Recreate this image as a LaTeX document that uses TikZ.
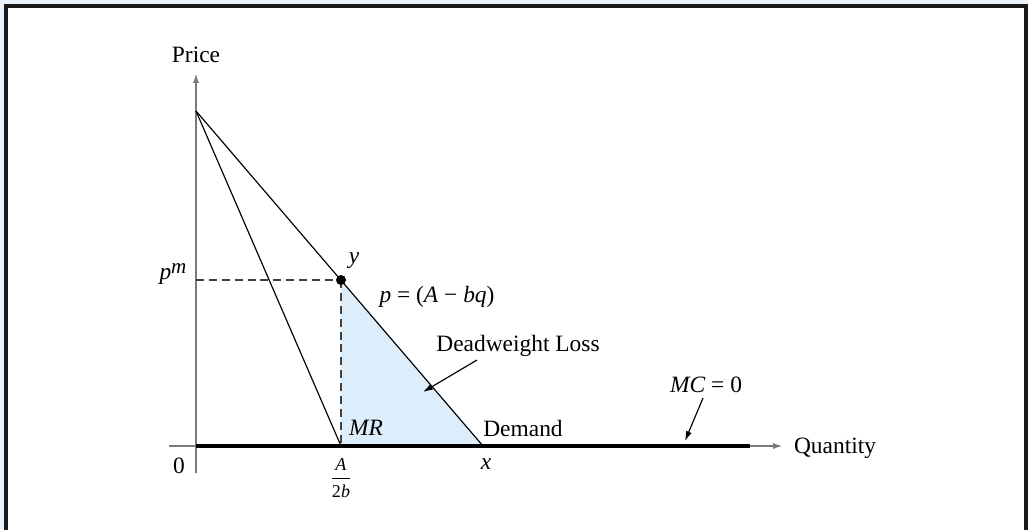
\documentclass[tikz,border=0pt]{standalone}
\usepackage{amsmath}
\usepackage{fontspec}
\setmainfont{Liberation Serif}
\usetikzlibrary{arrows.meta}
\definecolor{cframe}{HTML}{1A1A1A}
\definecolor{cpage}{HTML}{E8F3FC}
\definecolor{caxis}{HTML}{7A7A7A}
\definecolor{cdwl}{HTML}{DCEDFB}
\tikzset{
  every picture/.style={font=\fontsize{10}{12}\selectfont},
  axis/.style={draw=caxis, line width=0.9pt},
  curve/.style={draw=black, line width=0.5pt},
  guide/.style={draw=black!75, line width=0.5pt, dash pattern=on 3.4pt off 2.1pt},
  tip/.style={-{Latex[length=4.2pt, width=2.6pt]}},
  lbl/.style={inner sep=0pt, anchor=center},
}

\begin{document}
\begin{tikzpicture}[x=0.015cm, y=-0.015cm]
  \useasboundingbox (0,0) rectangle (1028,529);
  \clip (0,0) rectangle (1028,529);
  \fill[cpage] (0,0) rectangle (1028,529);
  \draw[cframe, fill=white, line width=1.3pt] (6,6) rectangle (1026,560);
  % key points
  \coordinate (O) at (196,446);
  \coordinate (top) at (196,111);
  \coordinate (mr) at (341,446);
  \coordinate (dq) at (483,446);
  \coordinate (ym) at (341,280);
  \coordinate (pm) at (196,280);
  \coordinate (mcend) at (750,446);
  \coordinate (ybot) at (196,473);
  \coordinate (ytop) at (196,73);
  \coordinate (xleft) at (169,446);
  \coordinate (xright) at (783,446);
  % deadweight loss
  \fill[cdwl] (ym) -- (mr) -- (dq) -- cycle;
  % axes
  \draw[axis, tip] (ybot) -- (ytop);
  \draw[axis, tip] (xleft) -- (xright);
  \draw[line width=2.1pt] (O) -- (mcend);
  % demand and MR
  \draw[curve] (top) -- (dq);
  \draw[curve] (top) -- (mr);
  \draw[guide] (pm) -- (ym);
  \draw[guide] (ym) -- (mr);
  \fill (ym) circle (5);
  % labels
  \node[lbl] (price) at (196,55) {Price};
  \node[lbl] (qty) at (835,448) {Quantity};
  \node[lbl] (zero) at (179,466) {0};
  \node[lbl] (pmlbl) at (173,274) {\textit{p}\raisebox{0.55ex}{\fontsize{9}{10}\selectfont\textit{m}}};
  \node[lbl] (ylbl) at (354,261) {\textit{y}};
  \node[lbl] (demeq) at (437,297) {\textit{p} = (\textit{A} − \textit{bq})};
  \node[lbl] (dwl) at (518,346) {Deadweight Loss};
  \node[lbl] (mrlbl) at (366,428) {\textit{MR}};
  \node[lbl] (demlbl) at (523,428) {Demand};
  \node[lbl] (xlbl) at (486,464) {\textit{x}};
  \node[lbl, font=\fontsize{7.7}{9}\selectfont] (frac) at (341,478)
    {$\genfrac{}{}{0.4pt}{0}{\textit{A}}{\text{2\textit{b}}}$};
  \node[lbl] (mclbl) at (706,385) {\textit{MC} = 0};
  % pointers
  \coordinate (dwltail) at (477,360);
  \coordinate (dwlhead) at (423,392);
  \coordinate (mctail) at (703,398);
  \coordinate (mchead) at (685,441);
  \draw[curve, tip] (dwltail) -- (dwlhead);
  \draw[curve, tip] (mctail) -- (mchead);
\end{tikzpicture}
\end{document}
